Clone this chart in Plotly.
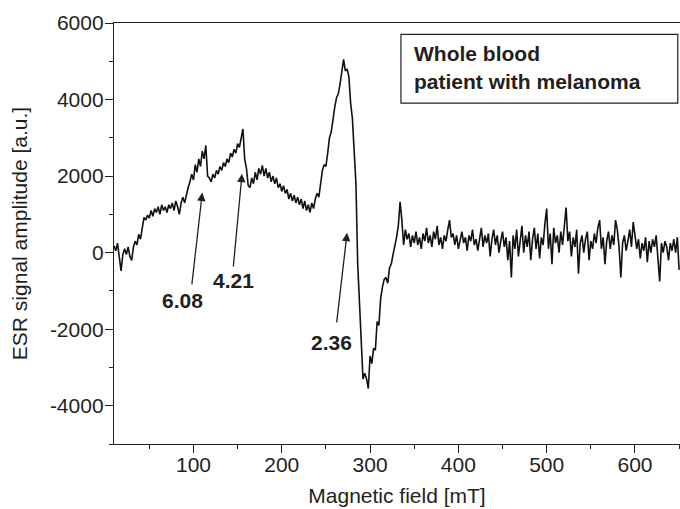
import plotly.graph_objects as go

# Magnetic field [mT]
field = [
    10, 12, 14, 16, 18, 20, 22, 24, 26, 28, 30, 32, 34, 36, 38, 40, 42, 44, 46, 48,
    50, 52, 54, 56, 58, 60, 62, 64, 66, 68, 70, 72, 74, 76, 78, 80, 82, 84, 86, 88,
    90, 92, 94, 96, 98, 100, 102, 104, 106, 108, 110, 112, 114, 116, 118, 120, 122, 124, 126, 128,
    130, 132, 134, 136, 138, 140, 142, 144, 146, 148, 150, 152, 154, 156, 158, 160, 162, 164, 166, 168,
    170, 172, 174, 176, 178, 180, 182, 184, 186, 188, 190, 192, 194, 196, 198, 200, 202, 204, 206, 208,
    210, 212, 214, 216, 218, 220, 222, 224, 226, 228, 230, 232, 234, 236, 238, 240, 242, 244, 246, 248,
    250, 252, 254, 256, 258, 260, 262, 264, 266, 268, 270, 272, 274, 276, 278, 280, 282, 284, 286, 288,
    290, 292, 294, 296, 298, 300, 302, 304, 306, 308, 310, 312, 314, 316, 318, 320, 322, 324, 326, 328,
    330, 332, 334, 336, 338, 340, 342, 344, 346, 348, 350, 352, 354, 356, 358, 360, 362, 364, 366, 368,
    370, 372, 374, 376, 378, 380, 382, 384, 386, 388, 390, 392, 394, 396, 398, 400, 402, 404, 406, 408,
    410, 412, 414, 416, 418, 420, 422, 424, 426, 428, 430, 432, 434, 436, 438, 440, 442, 444, 446, 448,
    450, 452, 454, 456, 458, 460, 462, 464, 466, 468, 470, 472, 474, 476, 478, 480, 482, 484, 486, 488,
    490, 492, 494, 496, 498, 500, 502, 504, 506, 508, 510, 512, 514, 516, 518, 520, 522, 524, 526, 528,
    530, 532, 534, 536, 538, 540, 542, 544, 546, 548, 550, 552, 554, 556, 558, 560, 562, 564, 566, 568,
    570, 572, 574, 576, 578, 580, 582, 584, 586, 588, 590, 592, 594, 596, 598, 600, 602, 604, 606, 608,
    610, 612, 614, 616, 618, 620, 622, 624, 626, 628, 630, 632, 634, 636, 638, 640, 642, 644, 646, 648,
    650,
]

# ESR signal amplitude [a.u.]
amplitude = [
    180, 50, 250, -100, -480, -50, 100, -50, 150, -100, -200, 150, 300, 200, 480, 350, 650, 920, 850, 980,
    900, 1100, 950, 1150, 1050, 1200, 1000, 1250, 1100, 1200, 1050, 1250, 1150, 1300, 1100, 1350, 1200, 1000, 1300, 1450,
    1300, 1550, 1700, 1850, 2050, 1900, 2300, 2100, 2450, 2250, 2650, 2450, 2800, 2000, 1950, 1850, 2050, 1950, 2150, 2050,
    2250, 2150, 2350, 2250, 2450, 2350, 2600, 2500, 2700, 2600, 2850, 2750, 2950, 3230, 2450, 2200, 1750, 1700, 1950, 1800,
    2100, 1900, 2200, 2050, 2280, 2000, 2200, 1950, 2100, 1850, 2000, 1800, 1950, 1700, 1800, 1600, 1750, 1550, 1650, 1400,
    1550, 1350, 1500, 1300, 1450, 1250, 1400, 1150, 1350, 1100, 1250, 1050, 1300, 1150, 1400, 1550, 1450, 1800, 2150, 2300,
    2250, 2600, 3000, 3150, 3500, 3800, 4050, 4150, 4400, 4800, 5050, 4750, 4800, 4600, 3900, 3500, 2800, 1800, -300, -1400,
    -2400, -3300, -3150, -3300, -3550, -2700, -2900, -2500, -2550, -1800, -1900, -1200, -900, -700, -650, -800, -400, -300, -50, 150,
    400, 700, 1330, 850, 200, 600, 350, 500, 150, 450, 250, 550, 200, 400, 100, 500, 300, 650, 250, 450,
    150, 550, 350, 700, 200, 400, 100, 450, 300, 600, 850, 400, 500, 200, 450, 100, 350, 550, 250, 400,
    50, 450, 300, 600, 200, 350, 50, 400, 650, 150, 450, 250, 500, -100, 350, 600, 200, 450, 0, 300,
    550, 150, 400, -200, 300, -650, 450, 100, 600, -100, 350, 700, 0, 450, 150, 550, -200, 350, 650, 100,
    500, -150, 400, 200, 750, 1150, 100, 500, -300, 650, 250, 450, 0, 550, 200, 800, 1180, 300, 550, -100,
    400, 150, 600, -550, 250, 450, 0, 350, 550, -200, 300, 100, 500, 250, 650, 850, 100, 400, -300, 300,
    550, 100, 450, 200, 850, 600, 150, -650, 250, 450, 50, 300, 600, 150, 800, 450, 100, 350, -150, 250,
    50, 400, -250, 300, 0, 350, 150, 450, -100, -750, 250, 0, 300, 150, -200, 250, 50, 350, 0, 400,
    -450,
]

# g-factor labels with arrow heads, arrow tails and label positions (data units)
g_labels = ["6.08", "4.21", "2.36"]
g_head_x = [110, 155, 274]
g_head_y = [1570, 2060, 520]
g_tail_x = [98, 145, 262]
g_tail_y = [-870, -400, -1860]
g_text_x = [88, 145, 256]
g_text_y = [-1260, -740, -2360]

legend_lines = ["Whole blood", "patient with melanoma"]

FONT = "Liberation Sans, Arial, sans-serif"
INK = "#231f20"
FS = 21

fig = go.Figure()
fig.add_trace(go.Scatter(
    x=field, y=amplitude, mode="lines",
    line=dict(color="#111111", width=1.6),
    showlegend=False, hoverinfo="skip",
))

for lab, hx, hy, tx, ty, lx, ly in zip(g_labels, g_head_x, g_head_y, g_tail_x, g_tail_y, g_text_x, g_text_y):
    fig.add_annotation(
        x=hx, y=hy, ax=tx, ay=ty, xref="x", yref="y", axref="x", ayref="y",
        text="", showarrow=True, arrowhead=2, arrowsize=1.3, arrowwidth=1.3,
        arrowcolor=INK, standoff=0, startstandoff=0,
    )
    fig.add_annotation(
        x=lx, y=ly, xref="x", yref="y", text="<b>%s</b>" % lab, showarrow=False,
        font=dict(family=FONT, size=FS, color=INK), xanchor="center", yanchor="middle",
    )

# legend-like text box
fig.add_shape(type="rect", xref="x", yref="y", x0=335, x1=648.5, y0=3906, y1=5704,
              line=dict(color=INK, width=1.2), fillcolor="rgba(0,0,0,0)")
for txt, yy in zip(legend_lines, [5207, 4474]):
    fig.add_annotation(
        x=347.5, y=yy, xref="x", yref="y", text="<b>%s</b>" % txt, showarrow=False,
        font=dict(family=FONT, size=FS, color=INK), xanchor="left", yanchor="middle",
    )

fig.update_layout(
    width=680, height=509,
    margin=dict(l=114, r=0, t=23, b=65),
    paper_bgcolor="white", plot_bgcolor="white",
    font=dict(family=FONT, size=FS, color=INK),
    xaxis=dict(
        range=[10, 651], tickmode="array", tickvals=[100, 200, 300, 400, 500, 600],
        ticks="outside", ticklen=8, tickwidth=1.2, tickcolor=INK,
        showline=True, linecolor=INK, linewidth=1.4, mirror=True,
        showgrid=False, zeroline=False, ticklabelstandoff=-6,
        minor=dict(dtick=50, tick0=0, ticks="outside", ticklen=4, tickcolor=INK, tickwidth=1.2, showgrid=False),
        title=dict(text="Magnetic field [mT]", font=dict(size=FS, family=FONT, color=INK), standoff=12),
        tickfont=dict(size=FS, family=FONT, color=INK),
    ),
    yaxis=dict(
        range=[-5000, 6000], tickmode="array", tickvals=[-4000, -2000, 0, 2000, 4000, 6000],
        ticktext=["-4000", "-2000", "0", "2000", "4000", "6000"],
        ticks="outside", ticklen=8, tickwidth=1.2, tickcolor=INK,
        showline=True, linecolor=INK, linewidth=1.4, mirror=False,
        showgrid=False, zeroline=False, ticklabelstandoff=-3,
        minor=dict(dtick=1000, tick0=0, ticks="outside", ticklen=4, tickcolor=INK, tickwidth=1.2, showgrid=False),
        title=dict(text="ESR signal amplitude [a.u.]", font=dict(size=FS, family=FONT, color=INK), standoff=16),
        tickfont=dict(size=FS, family=FONT, color=INK),
    ),
)

fig.write_html("out.html")
